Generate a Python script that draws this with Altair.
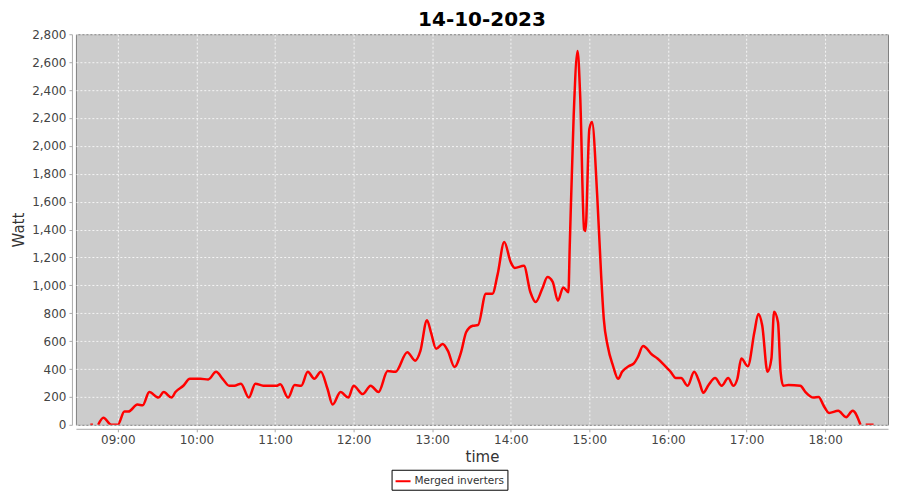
import altair as alt
import pandas as pd

times = ["08:39", "08:41",
         "08:45", "08:49", "08:55", "09:00", "09:05", "09:08", "09:15", "09:19",
         "09:24", "09:31", "09:35", "09:41", "09:44", "09:50", "09:55", "10:03",
         "10:09", "10:15", "10:20", "10:25", "10:29", "10:34", "10:40", "10:45",
         "10:51", "11:01", "11:04", "11:10", "11:15", "11:20", "11:25", "11:30",
         "11:35", "11:40", "11:44", "11:50", "11:56", "12:00", "12:07", "12:13",
         "12:19", "12:26", "12:32", "12:41", "12:47", "12:51", "12:56", "12:59",
         "13:03", "13:08", "13:12", "13:17", "13:22", "13:26", "13:31", "13:35",
         "13:41", "13:46", "13:50", "13:55", "14:00", "14:03", "14:10", "14:15",
         "14:19", "14:24", "14:28", "14:32", "14:36", "14:40", "14:44", "14:45",
         "14:48", "14:51", "14:53", "14:56", "14:57", "15:00", "15:02", "15:06",
         "15:09", "15:11", "15:14", "15:18", "15:22", "15:25", "15:30", "15:34",
         "15:37", "15:41", "15:43", "15:47", "15:52", "15:57", "16:02", "16:06",
         "16:10", "16:15", "16:20", "16:24", "16:27", "16:31", "16:36", "16:41",
         "16:46", "16:50", "16:53", "16:56", "17:01", "17:06", "17:09", "17:12",
         "17:16", "17:19", "17:21", "17:24", "17:26", "17:28", "17:32", "17:41",
         "17:45", "17:51", "17:55", "17:59", "18:03", "18:10", "18:16", "18:21",
         "18:27",
         "18:31", "18:37"]
watts = [0, 0,
         0, 50, 0, 0, 95, 95, 145, 140,
         235, 195, 235, 195, 235, 280, 330, 330,
         325, 380, 330, 280, 280, 295, 195, 295,
         280, 280, 290, 195, 285, 280, 380, 330,
         380, 260, 145, 235, 195, 280, 220, 280,
         235, 385, 380, 520, 460, 530, 750, 665,
         545, 580, 530, 415, 520, 665, 710, 715,
         940, 940, 1080, 1310, 1165, 1125, 1140, 950,
         880, 975, 1060, 1025, 890, 985, 950, 1275,
         2210, 2680, 2355, 1400, 1390, 2120, 2170, 1640,
         1070, 760, 565, 425, 330, 380, 420, 440,
         485, 565, 555, 510, 475, 430, 380, 335,
         335, 280, 380, 305, 230, 285, 335, 280,
         335, 280, 330, 475, 420, 665, 795, 710,
         380, 475, 810, 735, 380, 280, 285, 280,
         235, 195, 200, 135, 85, 100, 55, 100,
         0,
         0, 0]
segments = [0, 0] + [1] * (len(times) - 4) + [2, 2]
tick_hours = list(range(9, 19))

series_name = "Merged inverters"

df = pd.DataFrame({
    "time": ["2023-10-14T" + t + ":00" for t in times],
    "Watt": watts,
    "seg": segments,
    "series": series_name,
})

font = "DejaVu Sans"


def dt(h, m=0):
    return alt.DateTime(year=2023, month=10, date=14, hours=h, minutes=m)


line = alt.Chart(df).mark_line(
    interpolate="monotone", strokeWidth=2.5, clip=True
).encode(
    x=alt.X(
        "time:T",
        title="time",
        scale=alt.Scale(domain=[dt(8, 28), dt(18, 48)]),
        axis=alt.Axis(
            format="%H:%M",
            values=[dt(h) for h in tick_hours],
            offset=4,
            tickSize=3,
            labelPadding=3,
            titlePadding=4,
        ),
    ),
    y=alt.Y(
        "Watt:Q",
        title="Watt",
        scale=alt.Scale(domain=[0, 2800], nice=False),
        axis=alt.Axis(
            values=list(range(0, 2801, 200)),
            format=",d",
            offset=4,
            tickSize=3,
            labelPadding=3,
            titlePadding=5,
        ),
    ),
    color=alt.Color(
        "series:N",
        scale=alt.Scale(domain=[series_name], range=["#ff0000"]),
        legend=alt.Legend(
            title=None,
            orient="none",
            legendX=316,
            legendY=436,
            strokeColor="black",
            padding=3,
            symbolType="stroke",
            symbolStrokeWidth=2,
            symbolSize=225,
            labelFont=font,
            labelFontSize=10.5,
            labelColor="#333333",
            labelOffset=3,
        ),
    ),
    detail="seg:N",
)

chart = line.properties(
    width=813,
    height=391,
    padding={"left": 3, "top": 2, "right": 4, "bottom": 0},
    background="white",
    title=alt.TitleParams(
        "14-10-2023",
        font=font,
        fontSize=20,
        fontWeight="bold",
        color="black",
        anchor="middle",
        offset=-2,
    ),
).configure_view(
    fill="#cccccc",
    stroke="#808080",
    strokeWidth=1,
).configure_axis(
    labelFont=font,
    labelFontSize=12,
    labelColor="#444444",
    titleFont=font,
    titleFontSize=15,
    titleFontWeight="normal",
    titleColor="#333333",
    gridColor="#ffffff",
    gridDash=[2, 2],
    gridOpacity=0.8,
    domainColor="#aaaaaa",
    tickColor="#aaaaaa",
)

chart.save("out.html", embed_options={"renderer": "svg", "actions": False})
